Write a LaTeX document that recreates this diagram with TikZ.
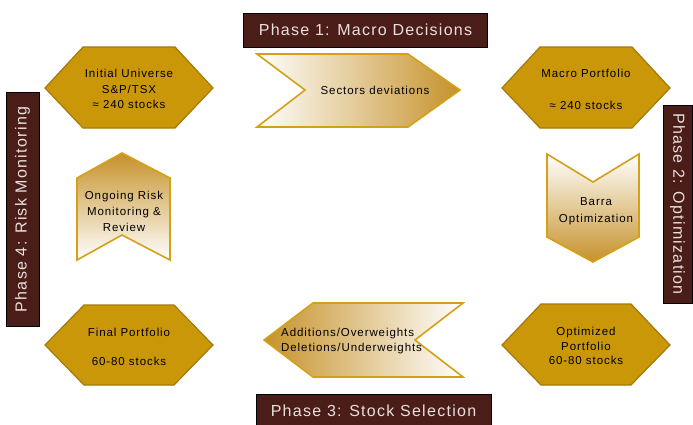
\documentclass[tikz,border=0pt]{standalone}
\usepackage{fontspec}
\setmainfont{Liberation Sans}[LetterSpace=8]
\definecolor{gold}{RGB}{201,151,8}
\definecolor{goldedge}{RGB}{165,122,10}
\definecolor{chevedge}{RGB}{212,160,23}
\definecolor{chevend}{RGB}{198,146,42}
\definecolor{phasefill}{RGB}{75,29,25}
\definecolor{phasetext}{RGB}{232,224,220}
\begin{document}
\begin{tikzpicture}[x=1pt,y=-1pt,
  hexa/.style={fill=gold,draw=goldedge,line width=1.2pt,line join=miter},
  chev/.style={draw=chevedge,line width=1.6pt,line join=miter},
  phasebox/.style={draw=black,line width=1pt,fill=phasefill,text=phasetext,
    font=\fontsize{16}{18}\selectfont,inner sep=0pt},
  lbl/.style={font=\fontsize{11.5}{15.5}\selectfont,align=center,text=black,inner sep=0pt}]
\clip (0,0) rectangle (693,424);
\fill[white] (0,0) rectangle (693,424);

% phase labels
\node[phasebox,minimum width=244pt,minimum height=34pt] (p1) at (365.5,30) {Phase 1: Macro Decisions};
\node[phasebox,minimum width=198pt,minimum height=29pt,rotate=-90] (p2) at (677.5,204) {Phase 2: Optimization};
\node[phasebox,minimum width=235pt,minimum height=34pt] (p3) at (373.5,411) {Phase 3: Stock Selection};
\node[phasebox,minimum width=234pt,minimum height=33pt,rotate=90] (p4) at (22.5,209.5) {Phase 4: Risk Monitoring};

% hexagons
\path[hexa] (45,88) -- (83,47) -- (175,47) -- (213,88) -- (175,128) -- (83,128) -- cycle;
\node[lbl] (h1) at (129,89) {Initial Universe\\S\&P/TSX\\≈ 240 stocks};
\path[hexa] (502,88) -- (540,47) -- (632,47) -- (670,88) -- (632,128) -- (540,128) -- cycle;
\node[lbl,font=\fontsize{11.5}{16}\selectfont] (h2) at (586,89) {Macro Portfolio\\[16pt]≈ 240 stocks};
\path[hexa] (45,345) -- (84,305) -- (174,305) -- (213,345) -- (174,385) -- (84,385) -- cycle;
\node[lbl,font=\fontsize{11.5}{14.5}\selectfont] (h3) at (129,347) {Final Portfolio\\[14.5pt]60-80 stocks};
\path[hexa] (502,345) -- (541,304) -- (631,304) -- (670,345) -- (631,385) -- (541,385) -- cycle;
\node[lbl,font=\fontsize{11.5}{14.5}\selectfont] (h4) at (586,346) {Optimized\\Portfolio\\60-80 stocks};

% chevrons
\path[chev,left color=white,right color=chevend] (257,54) -- (408,54) -- (460,90) -- (408,127) -- (257,127) -- (305,90) -- cycle;
\node[lbl] (c1) at (375,90) {Sectors deviations};
\path[chev,top color=white,bottom color=chevend] (547,154) -- (593,182) -- (639,154) -- (639,237) -- (593,262) -- (547,237) -- cycle;
\node[lbl,font=\fontsize{11.5}{17}\selectfont] (c2) at (596,211) {Barra\\Optimization};
\path[chev,left color=chevend,right color=white] (463,303) -- (313,303) -- (264,340) -- (313,377) -- (463,377) -- (415,340) -- cycle;
\node[lbl,align=left,anchor=west] (c3) at (281,341) {Additions/Overweights\\Deletions/Underweights};
\path[chev,top color=chevend,bottom color=white] (122,153) -- (170,178) -- (170,260) -- (122,235) -- (77,260) -- (77,178) -- cycle;
\node[lbl,font=\fontsize{11.5}{16}\selectfont] (c4) at (124,211) {Ongoing Risk\\Monitoring \&\\Review};
\end{tikzpicture}
\end{document}
